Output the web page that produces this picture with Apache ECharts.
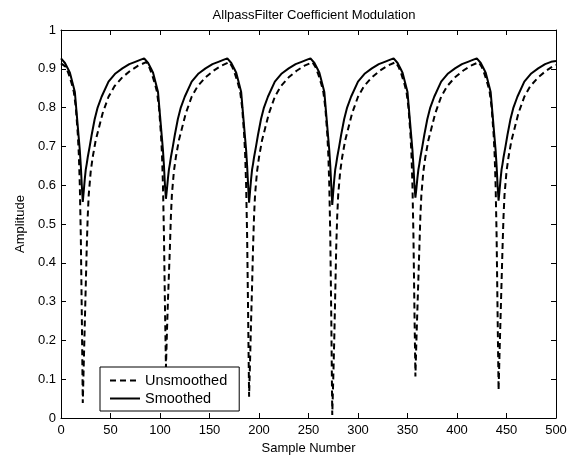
<!DOCTYPE html>
<html>
<head>
<meta charset="utf-8">
<script src="https://cdn.jsdelivr.net/npm/echarts@6/dist/echarts.min.js"></script>
<style>html,body{margin:0;padding:0;background:#fff}#c{width:577px;height:461px}</style>
</head>
<body>
<div id="c"></div>
<script>
const titleText = 'AllpassFilter Coefficient Modulation';
const xName = 'Sample Number';
const yName = 'Amplitude';
const seriesNames = ['Unsmoothed', 'Smoothed'];
const xTicks = [0, 50, 100, 150, 200, 250, 300, 350, 400, 450, 500];
const yTicks = [0, 0.1, 0.2, 0.3, 0.4, 0.5, 0.6, 0.7, 0.8, 0.9, 1];

const unsmoothedX = [
  0,2,5,8,11,13,15,17,18,19,20,21,
  22,23,24,25,26,27,28,30,32,35,38,42,48,54,62,70,78,86,89,92,95,97,99,101,102,103,104,105,
  106,107,108,109,110,111,112,114,116,119,122,126,132,138,146,154,162,170,173,176,179,181,183,185,186,187,188,189,
  190,191,192,193,194,195,196,198,200,203,206,210,216,222,230,238,246,254,257,260,263,265,267,269,270,271,272,273,
  274,275,276,277,278,279,280,282,284,287,290,294,300,306,314,322,330,338,341,344,347,349,351,353,354,355,356,357,
  358,359,360,361,362,363,364,366,368,371,374,378,384,390,398,406,414,422,425,428,431,433,435,437,438,439,440,441,
  442,443,444,445,446,447,448,450,452,455,458,462,468,474,482,490,498,500
];
const unsmoothedY = [
  0.914,0.917,0.905,0.885,0.86,0.84,0.80,0.73,0.68,0.60,0.47,0.27,
  0.039,0.14,0.24,0.34,0.44,0.52,0.575,0.635,0.672,0.715,0.745,0.785,0.828,0.855,0.878,0.895,0.908,0.917,0.905,0.885,0.86,0.84,0.80,0.73,0.68,0.60,0.47,0.29,
  0.13,0.22,0.30,0.37,0.44,0.52,0.575,0.635,0.672,0.715,0.745,0.785,0.828,0.855,0.878,0.895,0.908,0.917,0.905,0.885,0.86,0.84,0.80,0.73,0.68,0.60,0.47,0.27,
  0.055,0.15,0.25,0.34,0.44,0.52,0.575,0.635,0.672,0.715,0.745,0.785,0.828,0.855,0.878,0.895,0.908,0.917,0.905,0.885,0.86,0.84,0.80,0.73,0.68,0.60,0.47,0.26,
  0.008,0.10,0.20,0.32,0.44,0.52,0.575,0.635,0.672,0.715,0.745,0.785,0.828,0.855,0.878,0.895,0.908,0.917,0.905,0.885,0.86,0.84,0.80,0.73,0.68,0.60,0.47,0.28,
  0.107,0.20,0.28,0.36,0.44,0.52,0.575,0.635,0.672,0.715,0.745,0.785,0.828,0.855,0.878,0.895,0.908,0.917,0.905,0.885,0.86,0.84,0.80,0.73,0.68,0.60,0.47,0.27,
  0.072,0.17,0.26,0.35,0.44,0.52,0.575,0.635,0.672,0.715,0.745,0.785,0.828,0.855,0.878,0.895,0.908,0.91
];

const smoothedX = [
  0,1,4,7,9,12,14,16,18,19,20,21,
  22,23,24,25,26,27,29,31,34,37,41,48,55,62,69,75,80,84,85,88,91,93,96,98,100,102,103,104,105,
  106,107,108,109,110,111,113,115,118,121,125,132,139,146,153,159,164,168,169,172,175,177,180,182,184,186,187,188,189,
  190,191,192,193,194,195,197,199,202,205,209,216,223,230,237,243,248,252,253,256,259,261,264,266,268,270,271,272,273,
  274,275,276,277,278,279,281,283,286,289,293,300,307,314,321,327,332,336,337,340,343,345,348,350,352,354,355,356,357,
  358,359,360,361,362,363,365,367,370,373,377,384,391,398,405,411,416,420,421,424,427,429,432,434,436,438,439,440,441,
  442,443,444,445,446,447,449,451,454,457,461,468,475,482,489,495,500
];
const smoothedY = [
  0.927,0.925,0.915,0.90,0.89,0.86,0.84,0.78,0.72,0.69,0.65,0.60,
  0.557,0.585,0.615,0.64,0.655,0.672,0.70,0.73,0.77,0.80,0.828,0.867,0.888,0.901,0.912,0.918,0.923,0.927,0.925,0.915,0.90,0.89,0.86,0.84,0.78,0.72,0.69,0.65,0.60,
  0.565,0.59,0.617,0.64,0.655,0.672,0.70,0.73,0.77,0.80,0.828,0.867,0.888,0.901,0.912,0.918,0.923,0.927,0.925,0.915,0.90,0.89,0.86,0.84,0.78,0.72,0.69,0.65,0.60,
  0.555,0.585,0.615,0.64,0.655,0.672,0.70,0.73,0.77,0.80,0.828,0.867,0.888,0.901,0.912,0.918,0.923,0.927,0.925,0.915,0.90,0.89,0.86,0.84,0.78,0.72,0.69,0.65,0.60,
  0.549,0.583,0.614,0.64,0.655,0.672,0.70,0.73,0.77,0.80,0.828,0.867,0.888,0.901,0.912,0.918,0.923,0.927,0.925,0.915,0.90,0.89,0.86,0.84,0.78,0.72,0.69,0.65,0.60,
  0.568,0.592,0.618,0.64,0.655,0.672,0.70,0.73,0.77,0.80,0.828,0.867,0.888,0.901,0.912,0.918,0.923,0.927,0.925,0.915,0.90,0.89,0.86,0.84,0.78,0.72,0.69,0.65,0.60,
  0.56,0.587,0.615,0.64,0.655,0.672,0.70,0.73,0.77,0.80,0.828,0.867,0.888,0.901,0.912,0.918,0.92
];

const FONT = 'Liberation Sans, Arial, Helvetica, sans-serif';
const pairs = (xs, ys) => xs.map((x, i) => [x, ys[i]]);

const chart = echarts.init(document.getElementById('c'), null, {renderer: 'canvas'});
const axisCommon = {
  axisLine: {show: true, onZero: false, lineStyle: {color: '#000', width: 1}},
  axisTick: {show: true, inside: true, length: 5, lineStyle: {color: '#000'}},
  splitLine: {show: false}
};
chart.setOption({
  animation: false,
  backgroundColor: '#fff',
  title: {
    text: titleText, left: 309, top: 4, textAlign: 'center',
    textStyle: {fontFamily: FONT, fontSize: 13, fontWeight: 'normal', color: '#000'}
  },
  grid: {left: 61, right: 21, top: 30, bottom: 43, containLabel: false},
  legend: {
    orient: 'vertical', left: 100, top: 367,
    data: seriesNames,
    itemWidth: 30, itemHeight: 14, itemGap: 3,
    padding: [6, 12, 5, 9],
    borderColor: '#000', borderWidth: 1, backgroundColor: '#fff',
    itemStyle: {opacity: 0},
    textStyle: {fontFamily: FONT, fontSize: 14.5, color: '#000'}
  },
  xAxis: [
    Object.assign({}, axisCommon, {
      type: 'value', min: xTicks[0], max: xTicks[xTicks.length - 1], interval: 50,
      name: xName, nameLocation: 'middle', nameGap: 24,
      nameTextStyle: {fontFamily: FONT, fontSize: 13, color: '#000'},
      axisLabel: {fontFamily: FONT, fontSize: 13, color: '#000', margin: 6}
    }),
    Object.assign({}, axisCommon, {
      type: 'value', position: 'top', min: 0, max: 500, interval: 50,
      axisLabel: {show: false}
    })
  ],
  yAxis: [
    Object.assign({}, axisCommon, {
      type: 'value', min: yTicks[0], max: yTicks[yTicks.length - 1], interval: 0.1,
      name: yName, nameLocation: 'middle', nameGap: 33, nameRotate: 90,
      nameTextStyle: {fontFamily: FONT, fontSize: 13, color: '#000'},
      axisLabel: {fontFamily: FONT, fontSize: 13, color: '#000', margin: 5}
    }),
    Object.assign({}, axisCommon, {
      type: 'value', position: 'right', min: 0, max: 1, interval: 0.1,
      axisLabel: {show: false}
    })
  ],
  series: [
    {
      name: seriesNames[0], type: 'line', showSymbol: false, symbol: 'none',
      data: pairs(unsmoothedX, unsmoothedY),
      lineStyle: {color: '#000', width: 2, type: [6, 4]},
      itemStyle: {color: '#000'}
    },
    {
      name: seriesNames[1], type: 'line', showSymbol: false, symbol: 'none',
      data: pairs(smoothedX, smoothedY),
      lineStyle: {color: '#000', width: 2, type: 'solid'},
      itemStyle: {color: '#000'}
    }
  ]
});
</script>
</body>
</html>
